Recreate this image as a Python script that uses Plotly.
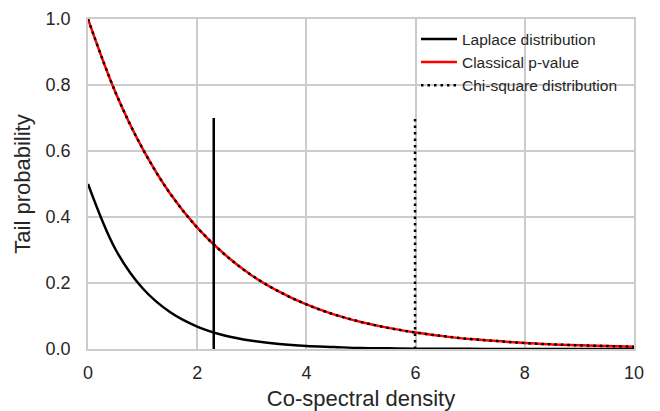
import plotly.graph_objects as go

x_vals = [0, 0.5, 1, 1.5, 2, 2.5, 3, 3.5, 4, 4.5, 5, 5.5, 6, 6.5, 7, 7.5, 8, 8.5, 9, 9.5, 10]
laplace = [0.5, 0.303, 0.184, 0.112, 0.068, 0.041, 0.025, 0.015, 0.009, 0.006, 0.003,
           0.002, 0.001, 0.001, 0.0005, 0.0003, 0.0002, 0.0001, 0.0001, 0.0, 0.0]
pvalue = [1.0, 0.779, 0.607, 0.472, 0.368, 0.287, 0.223, 0.174, 0.135, 0.105, 0.082,
          0.064, 0.050, 0.039, 0.030, 0.024, 0.018, 0.014, 0.011, 0.009, 0.007]
chisq = pvalue[:]

# threshold markers
laplace_thr_x = [2.303, 2.303]
chisq_thr_x = [5.99, 5.99]
thr_y = [0, 0.7]

font = "Liberation Sans, Arial, sans-serif"
txt = "#262626"

fig = go.Figure()
fig.add_trace(go.Scatter(x=x_vals, y=laplace, mode="lines", name="Laplace distribution",
                         line=dict(color="black", width=2.5, shape="spline")))
fig.add_trace(go.Scatter(x=x_vals, y=pvalue, mode="lines", name="Classical p-value",
                         line=dict(color="red", width=2.5, shape="spline")))
fig.add_trace(go.Scatter(x=x_vals, y=chisq, mode="lines", name="Chi-square distribution",
                         line=dict(color="black", width=2.5, dash="2.5px,4px", shape="spline")))
fig.add_trace(go.Scatter(x=laplace_thr_x, y=thr_y, mode="lines", showlegend=False,
                         line=dict(color="black", width=2.5)))
fig.add_trace(go.Scatter(x=chisq_thr_x, y=thr_y, mode="lines", showlegend=False,
                         line=dict(color="black", width=2.5, dash="2.5px,4px")))

fig.update_layout(
    width=660, height=411,
    margin=dict(l=88, r=26, t=19, b=62, autoexpand=False),
    paper_bgcolor="white", plot_bgcolor="white",
    font=dict(family=font, color=txt),
    legend=dict(x=0.6007, y=0.99, xanchor="left", yanchor="top",
                bgcolor="rgba(0,0,0,0)", font=dict(size=15.5, color=txt),
                tracegroupgap=0, itemwidth=36),
    xaxis=dict(range=[0, 10], tickvals=[0, 2, 4, 6, 8, 10], showgrid=True,
               gridcolor="#cccccc", gridwidth=1.5, zeroline=False, automargin=False,
               showline=True, linecolor="#cccccc", linewidth=1.5, mirror=True,
               tickfont=dict(size=18, color=txt), ticklabelstandoff=7,
               title=dict(text="Co-spectral density", font=dict(size=22, color=txt), standoff=11),
               ticks=""),
    yaxis=dict(range=[0, 1], tickvals=[0, 0.2, 0.4, 0.6, 0.8, 1.0], tickformat=".1f",
               showgrid=True, gridcolor="#cccccc", gridwidth=1.5, zeroline=False, automargin=False,
               showline=True, linecolor="#cccccc", linewidth=1.5, mirror=True,
               tickfont=dict(size=18, color=txt), ticklabelstandoff=12,
               title=dict(text="Tail probability", font=dict(size=22, color=txt), standoff=9),
               ticks=""),
)
fig.write_html("out.html", config={"displayModeBar": False},
               post_script="document.body.style.margin='0';")
